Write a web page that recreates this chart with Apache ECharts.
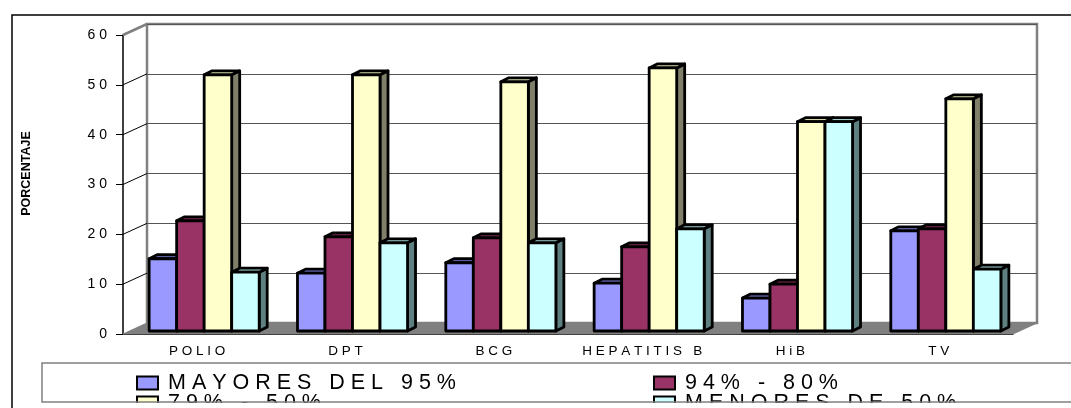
<!DOCTYPE html>
<html>
<head>
<meta charset="utf-8">
<script src="https://cdn.jsdelivr.net/npm/echarts@6/dist/echarts.min.js"></script>
<style>
  html, body { margin: 0; padding: 0; background: #fff; }
  #chart { width: 1071px; height: 408px; }
</style>
</head>
<body>
<div id="chart"></div>
<script>
var categories = ['POLIO', 'DPT', 'BCG', 'HEPATITIS B', 'HiB', 'TV'];
var seriesNames = ['MAYORES DEL 95%', '94% - 80%', '79% - 50%', 'MENORES DE 50%'];
var mayores95 = [14.5, 11.6, 13.7, 9.6, 6.6, 20.1];
var de94a80 = [22.1, 18.9, 18.7, 16.9, 9.4, 20.5];
var de79a50 = [51.4, 51.4, 50.0, 52.8, 42.0, 46.6];
var menores50 = [11.8, 17.7, 17.7, 20.5, 42.0, 12.4];
var yTicks = [0, 10, 20, 30, 40, 50, 60];

var FONT = 'Arial, "Liberation Sans", sans-serif';
// 3d look: wall depth and bar depth
var WALL_DX = 24, WALL_DY = -11;
var BAR_DX = 8, BAR_DY = -4;
var GROUP = 0.742;

var faces = [
  {front: '#9999ff', top: '#7b7bd6', side: '#5c5c99'},
  {front: '#993366', top: '#7a2850', side: '#5c1f3d'},
  {front: '#ffffcc', top: '#d6d6a8', side: '#80806a'},
  {front: '#ccffff', top: '#9fcccc', side: '#5f8080'}
];

function spaced(s) {
  return String(s).split('').join(' ');
}

function barRenderer(idx) {
  var f = faces[idx];
  return function(params, api) {
    var c = api.value(0);
    var v = api.value(1);
    var base = api.coord([c, 0]);
    var top = api.coord([c, v]);
    var catW = api.size([1, 0])[0];
    var bw = catW * GROUP / 4;
    var x0 = base[0] - catW * GROUP / 2 + idx * bw;
    var x1 = x0 + bw;
    var y0 = base[1], y1 = top[1];
    var edge = {stroke: '#000', lineWidth: 2.8, lineJoin: 'round'};
    return {
      type: 'group',
      children: [
        {
          type: 'polygon',
          shape: {points: [[x1, y1], [x1 + BAR_DX, y1 + BAR_DY], [x1 + BAR_DX, y0 + BAR_DY], [x1, y0]]},
          style: Object.assign({fill: f.side}, edge)
        },
        {
          type: 'polygon',
          shape: {points: [[x0, y1], [x0 + BAR_DX, y1 + BAR_DY], [x1 + BAR_DX, y1 + BAR_DY], [x1, y1]]},
          style: Object.assign({fill: f.top}, edge)
        },
        {
          type: 'rect',
          shape: {x: x0, y: y1, width: bw, height: y0 - y1},
          style: Object.assign({fill: f.front}, edge)
        }
      ]
    };
  };
}

// side wall diagonals + floor
function frameRenderer(params, api) {
  var cs = params.coordSys;
  var v = api.value(1);
  var y = api.coord([0, v])[1];
  var left = cs.x, right = cs.x + cs.width;
  if (v === 0) {
    return {
      type: 'polygon',
      shape: {points: [[left, y], [right, y], [right + WALL_DX, y + WALL_DY], [left + WALL_DX, y + WALL_DY]]},
      style: {fill: '#808080', stroke: '#808080', lineWidth: 1}
    };
  }
  var top = v === yTicks[yTicks.length - 1];
  return {
    type: 'line',
    shape: {x1: left, y1: y, x2: left + WALL_DX, y2: y + WALL_DY},
    style: {stroke: top ? '#808080' : '#000', lineWidth: top ? 2.5 : 1}
  };
}

var seriesData = [mayores95, de94a80, de79a50, menores50];

var series = [{
  name: 'frame',
  type: 'custom',
  xAxisIndex: 0,
  yAxisIndex: 0,
  silent: true,
  renderItem: frameRenderer,
  data: yTicks.map(function(v) { return [0, v]; })
}];

seriesData.forEach(function(arr, i) {
  series.push({
    name: seriesNames[i],
    type: 'custom',
    xAxisIndex: 2,
    yAxisIndex: 2,
    itemStyle: {color: faces[i].front},
    renderItem: barRenderer(i),
    data: arr.map(function(v, ci) { return [ci, v]; })
  });
});

var chart = echarts.init(document.getElementById('chart'));

// one legend per entry, 2 x 2 layout
var legendPos = [[136, 372], [653, 372], [136, 392], [653, 392]];
var legends = seriesNames.map(function(name, i) {
  return {
    left: legendPos[i][0],
    top: legendPos[i][1],
    data: [name],
    padding: 0,
    itemWidth: 21,
    itemHeight: 13,
    icon: 'rect',
    itemStyle: {borderColor: '#000', borderWidth: 2},
    selectedMode: false,
    textStyle: {fontFamily: FONT, fontSize: 21.5, color: '#000', lineHeight: 13, padding: [0, 0, 0, 5]},
    formatter: function(n) { return spaced(n); }
  };
});

chart.setOption({
  animation: false,
  backgroundColor: '#fff',
  grid: [
    {left: 123, top: 35, width: 890, height: 299},
    {left: 147, top: 24, width: 890, height: 299, show: true, borderColor: '#808080', borderWidth: 2.5, backgroundColor: 'transparent'},
    {left: 130, top: 32, width: 890, height: 299}
  ],
  xAxis: [
    {
      type: 'category',
      gridIndex: 0,
      data: categories,
      axisLine: {lineStyle: {color: '#000', width: 1}},
      axisTick: {length: 6, lineStyle: {color: '#000'}},
      axisLabel: {
        interval: 0,
        margin: 10,
        fontFamily: FONT,
        fontSize: 13.5,
        color: '#000',
        formatter: function(v) { return spaced(v); }
      }
    },
    {type: 'category', gridIndex: 1, data: categories, show: false},
    {type: 'category', gridIndex: 2, data: categories, show: false}
  ],
  yAxis: [
    {
      type: 'value',
      gridIndex: 0,
      min: 0,
      max: 60,
      interval: 10,
      axisLine: {show: true, lineStyle: {color: '#000', width: 1.5}},
      axisTick: {show: true, length: 7, lineStyle: {color: '#000'}},
      axisLabel: {
        margin: 16,
        fontFamily: FONT,
        fontSize: 14,
        color: '#000',
        formatter: function(v) { return spaced(v); }
      },
      splitLine: {show: false}
    },
    {
      type: 'value',
      gridIndex: 1,
      min: 0,
      max: 60,
      interval: 10,
      name: 'PORCENTAJE',
      nameLocation: 'middle',
      nameRotate: 90,
      nameGap: 114,
      nameTextStyle: {fontFamily: FONT, fontSize: 12.5, fontWeight: 'bold', color: '#000'},
      axisLine: {show: false},
      axisTick: {show: false},
      axisLabel: {show: false},
      splitLine: {show: true, lineStyle: {color: '#555', width: 1}}
    },
    {type: 'value', gridIndex: 2, min: 0, max: 60, interval: 10, show: false}
  ],
  legend: legends,
  graphic: [
    {type: 'rect', z: 100, silent: true, shape: {x: 14, y: 403, width: 1070, height: 10}, style: {fill: '#fff'}},
    {type: 'rect', z: 101, silent: true, shape: {x: 42, y: 363, width: 1040, height: 39}, style: {fill: 'none', stroke: '#808080', lineWidth: 1.5}},
    {type: 'rect', z: 102, silent: true, shape: {x: 12, y: 15, width: 1080, height: 420}, style: {fill: 'none', stroke: '#000', lineWidth: 1.5}}
  ],
  series: series
});

window.addEventListener('resize', function() {
  chart.resize();
});
</script>
</body>
</html>
